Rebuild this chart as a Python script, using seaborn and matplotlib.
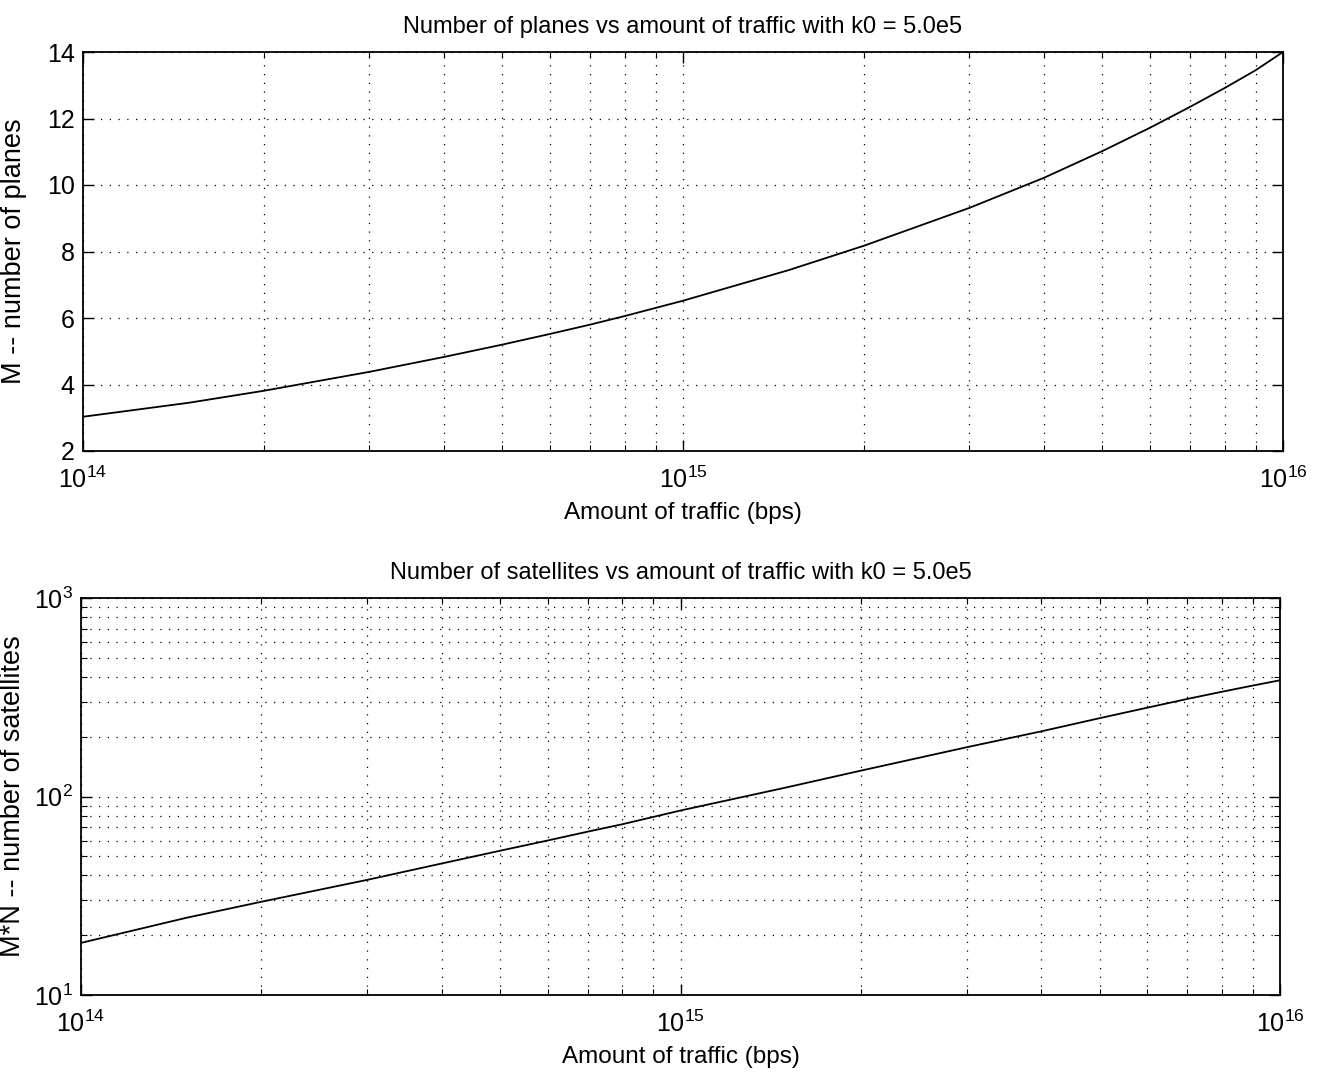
import numpy as np
import pandas as pd
import matplotlib
matplotlib.use("Agg")
import matplotlib.pyplot as plt
import seaborn as sns
from matplotlib.ticker import LogLocator, NullFormatter, MultipleLocator

sns.set_style("ticks", {"text.color": "black", "axes.labelcolor": "black",
                        "xtick.color": "black", "ytick.color": "black"})
plt.rcParams['font.family'] = ['Liberation Sans', 'DejaVu Sans']
plt.rcParams['mathtext.fontset'] = 'custom'
plt.rcParams['mathtext.rm'] = 'Liberation Sans'

# traffic (bps) 와 그림에서 읽은 값
traffic = [1e14, 1.5e14, 2e14, 3e14, 4e14, 5e14, 6e14, 7e14, 8e14, 1e15,
           1.5e15, 2e15, 3e15, 4e15, 5e15, 6e15, 7e15, 8e15, 9e15, 1e16]
planes = [3.03, 3.45, 3.81, 4.38, 4.83, 5.20, 5.52, 5.80, 6.06, 6.52,
          7.44, 8.17, 9.31, 10.22, 11.02, 11.72, 12.35, 12.92, 13.45, 14.0]
satellites = [18.3, 24.5, 29.5, 38.0, 46.0, 53.3, 60.0, 66.5, 72.5, 85.0,
              111.0, 135.0, 177.0, 213.0, 248.0, 280.0, 310.0, 337.0, 362.0, 385.0]

df = pd.DataFrame({"traffic": traffic, "planes": planes, "satellites": satellites})

W, H = 1322, 1078
fig = plt.figure(figsize=(W / 100, H / 100), dpi=100)
ax1 = fig.add_axes([83 / W, 1 - 451 / H, 1200 / W, 399 / H])
ax2 = fig.add_axes([81 / W, 1 - 995 / H, 1199 / W, 397 / H])

grid_kw = dict(color="black", linestyle=(0, (1, 6)), linewidth=0.9)

sns.lineplot(data=df, x="traffic", y="planes", ax=ax1, color="black", linewidth=1.3)
ax1.set_xscale("log")
ax1.set_xlim(1e14, 1e16)
ax1.set_ylim(2, 14)
ax1.yaxis.set_major_locator(MultipleLocator(2))
ax1.set_title("Number of planes vs amount of traffic with k0 = 5.0e5", fontsize=17, pad=14)
ax1.set_xlabel("Amount of traffic (bps)", fontsize=17.5, labelpad=7)
ax1.set_ylabel("M -- number of planes", fontsize=19.5)
ax1.yaxis.set_label_coords(-0.047, 0.5)
ax1.grid(True, which="major", axis="both", **grid_kw)
ax1.grid(True, which="minor", axis="x", **grid_kw)

sns.lineplot(data=df, x="traffic", y="satellites", ax=ax2, color="black", linewidth=1.3)
ax2.set_xscale("log")
ax2.set_yscale("log")
ax2.set_xlim(1e14, 1e16)
ax2.set_ylim(10, 1000)
ax2.set_title("Number of satellites vs amount of traffic with k0 = 5.0e5", fontsize=17, pad=14)
ax2.set_xlabel("Amount of traffic (bps)", fontsize=17.5, labelpad=7)
ax2.set_ylabel("M*N -- number of satellites", fontsize=19.5)
ax2.yaxis.set_label_coords(-0.046, 0.5)
ax2.grid(True, which="both", axis="both", **grid_kw)
ax2.yaxis.set_minor_locator(LogLocator(base=10, subs=np.arange(2, 10)))
ax2.yaxis.set_minor_formatter(NullFormatter())

for ax in (ax1, ax2):
    ax.xaxis.set_minor_locator(LogLocator(base=10, subs=np.arange(2, 10)))
    ax.xaxis.set_minor_formatter(NullFormatter())
    ax.tick_params(which="both", direction="in", top=True, right=True,
                   labelsize=18, color="black", labelcolor="black")
    ax.tick_params(which="major", length=8, width=1)
    ax.tick_params(which="minor", length=4, width=0.8)
    ax.tick_params(axis="x", pad=11)
    ax.tick_params(axis="y", pad=6)
    for s in ax.spines.values():
        s.set_linewidth(1.3)
        s.set_color("black")
    ax.set_axisbelow(False)

fig.savefig("out.png", dpi=100)
